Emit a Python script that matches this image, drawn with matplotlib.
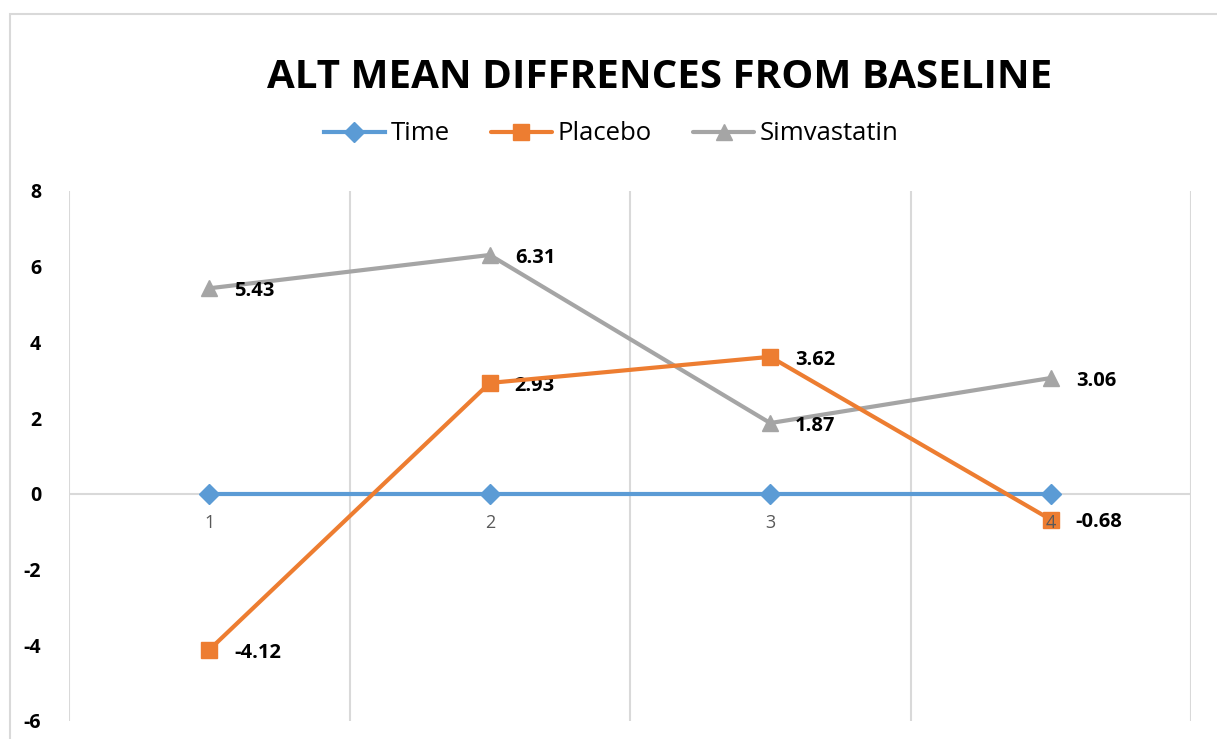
import matplotlib

matplotlib.use("Agg")
import matplotlib.pyplot as plt
from matplotlib.patches import Rectangle

plt.rcParams["font.family"] = ["Open Sans", "DejaVu Sans"]

# chart data
categories = [1, 2, 3, 4]
time_values = [0, 0, 0, 0]
placebo_values = [-4.12, 2.93, 3.62, -0.68]
simvastatin_values = [5.43, 6.31, 1.87, 3.06]
y_ticks = [-6, -4, -2, 0, 2, 4, 6, 8]

BLUE = "#5b9bd5"
ORANGE = "#ed7d31"
GRAY = "#a5a5a5"
GRID = "#d9d9d9"

W, H = 1217, 739
fig = plt.figure(figsize=(W / 100, H / 100), dpi=100)
fig.patch.set_facecolor("white")

# chart area border (runs off the right and bottom edges)
fig.patches.append(
    Rectangle((10 / W, -0.1), 1.2, 1 - 14 / H + 0.1, transform=fig.transFigure,
              fill=False, edgecolor=GRID, linewidth=1.5)
)

ax = fig.add_axes([69 / W, 1 - 721 / H, (1191 - 69) / W, (721 - 191) / H])
ax.set_xlim(0.5, 4.5)
ax.set_ylim(-6, 8)
for side in ax.spines.values():
    side.set_visible(False)

for xv in [0.5, 1.5, 2.5, 3.5, 4.5]:
    ax.axvline(xv, color=GRID, linewidth=1.5, zorder=0)
ax.axhline(0, color=GRID, linewidth=1.5, zorder=0)

line_kw = dict(linewidth=3, markersize=12, solid_capstyle="round", clip_on=False)
ax.plot(categories, time_values, color=BLUE, marker="D", markersize=10,
        linewidth=3, label="Time", zorder=3, clip_on=False)
ax.plot(categories, placebo_values, color=ORANGE, marker="s", label="Placebo", zorder=4, **line_kw)
ax.plot(categories, simvastatin_values, color=GRAY, marker="^", label="Simvastatin", zorder=2, **line_kw)

for series in (placebo_values, simvastatin_values):
    for xv, yv in zip(categories, series):
        ax.annotate(f"{yv:.2f}", (xv, yv), xytext=(18, -2), textcoords="offset points",
                    ha="left", va="center", fontsize=14.5, fontweight="bold", color="black")

# category labels sit just under the zero line
ax.set_xticks([])
for xv in categories:
    ax.annotate(str(xv), (xv, 0), xytext=(0, -21), textcoords="offset points",
                ha="center", va="center", fontsize=13, color="#595959", zorder=5)

ax.set_yticks(y_ticks)
ax.set_yticklabels([str(v) for v in y_ticks], fontsize=14, fontweight="bold")
ax.tick_params(axis="y", length=0, pad=20)

fig.text(660 / W, 1 - 78 / H, "ALT MEAN DIFFRENCES FROM BASELINE", ha="center", va="center",
         fontsize=29, fontweight="bold", color="black")

fig.legend(loc="center", bbox_to_anchor=(611 / W, 1 - 134 / H), ncol=3, frameon=False,
           fontsize=18.5, handlelength=2.4, handletextpad=0.2, columnspacing=1.6)

fig.savefig("out.png", dpi=100, facecolor="white")
